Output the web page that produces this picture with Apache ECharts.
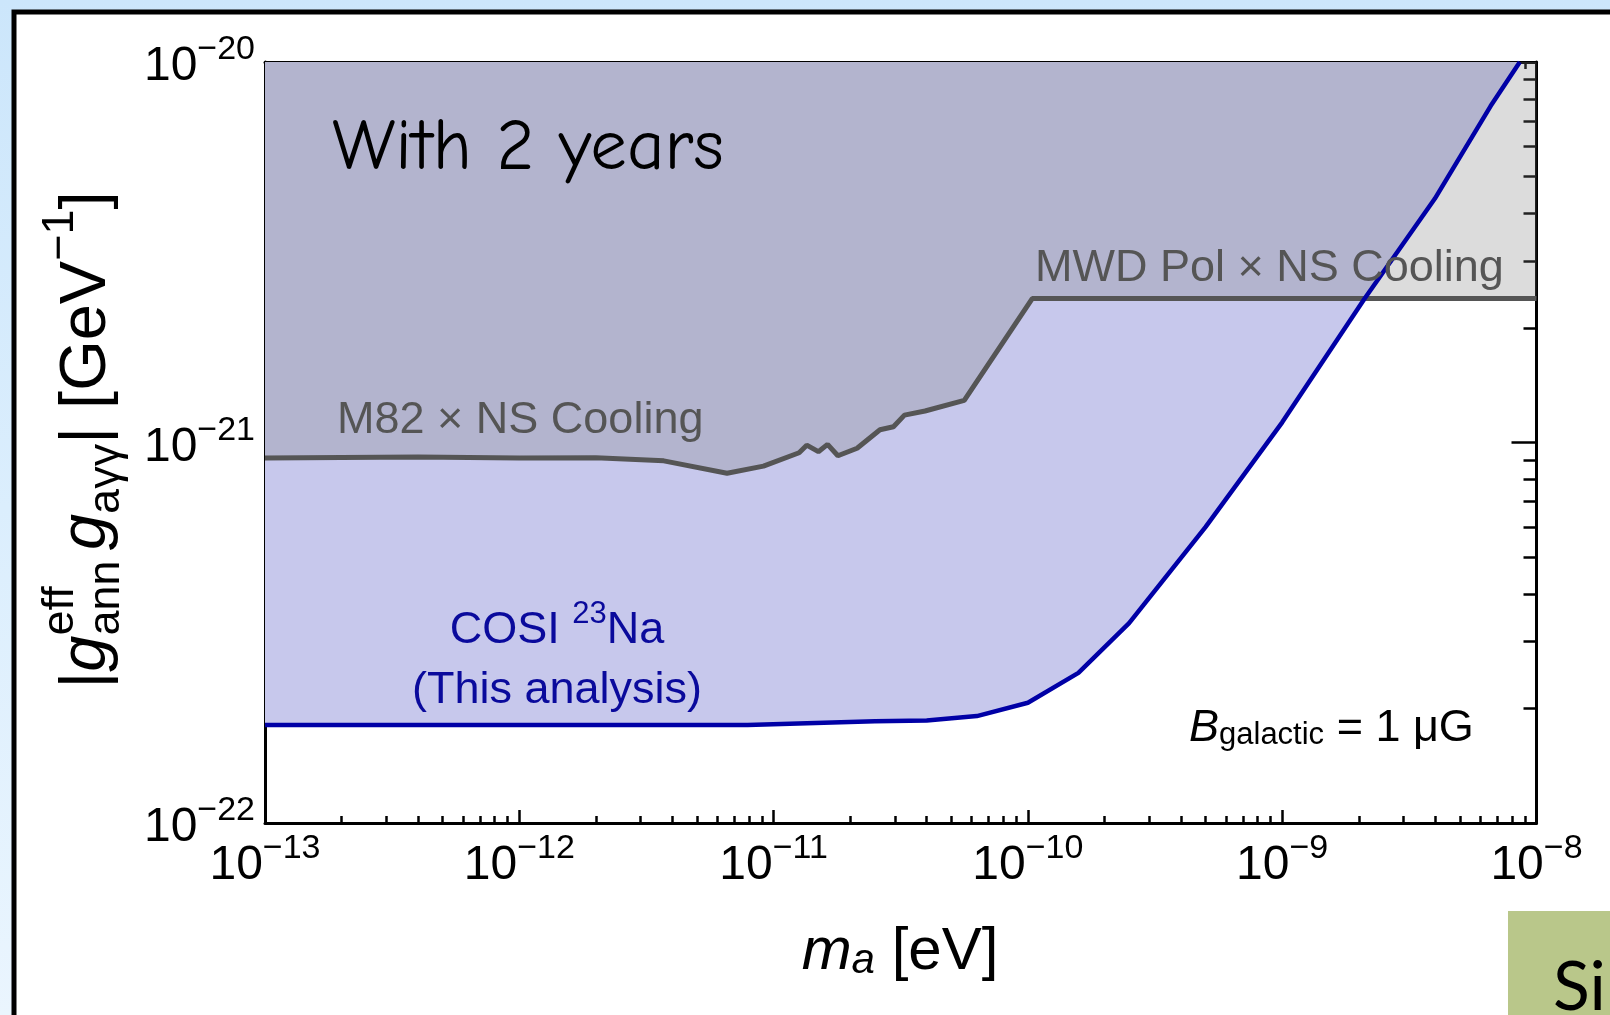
<!DOCTYPE html>
<html><head><meta charset="utf-8">
<script src="https://cdn.jsdelivr.net/npm/echarts@6/dist/echarts.min.js"></script>
<style>
html,body{margin:0;padding:0;width:1610px;height:1015px;overflow:hidden;
background:linear-gradient(180deg,#cce6fb 0%,#dbeefd 50%,#eaf5fe 100%);}
#chart{position:absolute;left:0;top:0;width:1610px;height:1015px;}
</style></head><body><div id="chart"></div>
<script>
// ---------- data (axion mass m_a [eV], coupling |g g| [GeV^-1]) ----------
const massNS = [1e-13, 4.0e-13, 1.0e-12, 2.0e-12, 3.7e-12, 6.56e-12, 9.12e-12, 1.26e-11, 1.35e-11, 1.50e-11, 1.63e-11, 1.79e-11, 2.13e-11, 2.62e-11, 2.96e-11, 3.27e-11, 3.94e-11, 5.62e-11, 1.04e-10, 1e-8];
const couplingNS = [9.10e-22, 9.16e-22, 9.10e-22, 9.12e-22, 8.95e-22, 8.30e-22, 8.67e-22, 9.40e-22, 9.84e-22, 9.46e-22, 9.89e-22, 9.23e-22, 9.66e-22, 1.08e-21, 1.10e-21, 1.18e-21, 1.21e-21, 1.29e-21, 2.39e-21, 2.39e-21];
const massCOSI = [1e-13, 7.9e-12, 2.5e-11, 4.0e-11, 6.3e-11, 1.0e-10, 1.58e-10, 2.5e-10, 5.0e-10, 1.0e-9, 2.11e-9, 3.98e-9, 6.6e-9, 8.6e-9];
const couplingCOSI = [1.81e-22, 1.81e-22, 1.85e-22, 1.86e-22, 1.91e-22, 2.07e-22, 2.48e-22, 3.35e-22, 6.0e-22, 1.13e-21, 2.39e-21, 4.37e-21, 7.66e-21, 1e-20];
const xMajor = [1e-13, 1e-12, 1e-11, 1e-10, 1e-9, 1e-8];
const yMajor = [1e-22, 1e-21, 1e-20];
const xDecades = [-13, -12, -11, -10, -9];
const yDecades = [-22, -21];
const minorSteps = [2, 3, 4, 5, 6, 7, 8, 9];

const xMinor = [], yMinor = [];
xDecades.forEach(d => minorSteps.forEach(k => xMinor.push(k * Math.pow(10, d))));
yDecades.forEach(d => minorSteps.forEach(k => yMinor.push(k * Math.pow(10, d))));
const nsPairs = massNS.map((m, i) => [m, couplingNS[i]]);
const cosiPairs = massCOSI.map((m, i) => [m, couplingCOSI[i]]);

const SANS = '"Liberation Sans", Arial, Helvetica, sans-serif';
const tickRich = {
  b: {fontSize: 48, fontFamily: SANS, color: '#000', lineHeight: 58, verticalAlign: 'bottom'},
  s: {fontSize: 34, fontFamily: SANS, color: '#000', lineHeight: 34, verticalAlign: 'top'}
};
function tickFmt(v) {
  const e = Math.round(Math.log10(v));
  return '{b|10}{s|' + (e < 0 ? '\u2212' : '') + Math.abs(e) + '}';
}
const tickLine = {color: '#000', width: 2.5};

function makeAxis(kind, pos, major, minorVals, isX) {
  const a = {
    type: 'log', logBase: 10, position: pos, gridIndex: 0,
    min: isX ? 1e-13 : 1e-22, max: isX ? 1e-8 : 1e-20,
    splitLine: {show: false}, minorTick: {show: false}, minorSplitLine: {show: false},
    axisPointer: {show: false}
  };
  if (kind === 'major') {
    a.axisLine = {show: true, onZero: false, lineStyle: {color: '#000', width: 3}};
    a.axisTick = {show: true, inside: true, length: isX ? 13 : 25, lineStyle: tickLine, customValues: major};
  } else {
    a.axisLine = {show: false, onZero: false};
    a.axisTick = {show: true, inside: true, length: isX ? 7 : 13, lineStyle: tickLine, customValues: minorVals};
  }
  const showLab = kind === 'major' && (pos === 'bottom' || pos === 'left');
  a.axisLabel = showLab ? {show: true, customValues: major, formatter: tickFmt, rich: tickRich, margin: isX ? 9 : 10} : {show: false};
  return a;
}

// measuring helper for composed y-axis title
const mctx = document.createElement('canvas').getContext('2d');
function tw(text, size, style) {
  mctx.font = (style || 'normal') + ' ' + size + 'px ' + SANS;
  return mctx.measureText(text).width;
}
function buildYTitle() {
  const S = 65, s = 45;
  const parts = [
    {t: '|', size: S}, {t: 'g', size: S, style: 'italic'},
    {stack: [{t: 'eff', size: s, dy: -0.40 * S}, {t: 'ann', size: s, dy: 0.30 * S}]},
    {gap: 0.16 * S},
    {t: 'g', size: S, style: 'italic'}, {t: 'a\u03b3\u03b3', size: s, dy: 0.30 * S},
    {t: '| [GeV', size: S}, {t: '\u22121', size: s, dy: -0.40 * S}, {t: ']', size: S}
  ];
  const children = [];
  let cur = 0;
  const mk = (p, x) => ({type: 'text', x: x, y: p.dy || 0, style: {
    text: p.t, fontSize: p.size, fontFamily: SANS, fontStyle: p.style || 'normal',
    fill: '#000', align: 'left', verticalAlign: 'middle'}});
  parts.forEach(p => {
    if (p.gap) { cur += p.gap; return; }
    if (p.stack) {
      let w = 0;
      p.stack.forEach(q => { children.push(mk(q, cur)); w = Math.max(w, tw(q.t, q.size, q.style)); });
      cur += w; return;
    }
    children.push(mk(p, cur));
    cur += tw(p.t, p.size, p.style);
  });
  return {type: 'group', x: 87, y: 440 + cur / 2, rotation: Math.PI / 2, children: children, z: 100};
}

const chart = echarts.init(document.getElementById('chart'), null, {renderer: 'canvas'});
chart.setOption({
  backgroundColor: 'transparent',
  animation: false,
  grid: {left: 265, right: 73.5, top: 62, bottom: 192, containLabel: false, outerBoundsMode: 'none'},
  xAxis: [
    makeAxis('major', 'bottom', xMajor, xMinor, true),
    makeAxis('minor', 'bottom', xMajor, xMinor, true),
    makeAxis('major', 'top', xMajor, xMinor, true),
    makeAxis('minor', 'top', xMajor, xMinor, true)
  ],
  yAxis: [
    makeAxis('major', 'left', yMajor, yMinor, false),
    makeAxis('minor', 'left', yMajor, yMinor, false),
    makeAxis('major', 'right', yMajor, yMinor, false),
    makeAxis('minor', 'right', yMajor, yMinor, false)
  ],
  series: [
    {name: 'COSI fill', type: 'line', data: cosiPairs, symbol: 'none', silent: true, z: 1,
     lineStyle: {width: 0, opacity: 0}, areaStyle: {origin: 'end', color: '#c7c8ec', opacity: 1}},
    {name: 'NS fill', type: 'line', data: nsPairs, symbol: 'none', silent: true, z: 2,
     lineStyle: {width: 0, opacity: 0}, areaStyle: {origin: 'end', color: 'rgba(124,124,124,0.27)', opacity: 1}},
    {name: 'M82 / MWD Pol x NS Cooling', type: 'line', data: nsPairs, symbol: 'none', z: 3,
     lineStyle: {color: '#555555', width: 5}},
    {name: 'COSI 23Na', type: 'line', data: cosiPairs, symbol: 'none', z: 4,
     lineStyle: {color: '#0000a6', width: 4.5}}
  ],
  graphic: [
    {type: 'rect', z: -10, shape: {x: 14, y: 12, width: 1700, height: 1200},
     style: {fill: '#ffffff', stroke: '#000000', lineWidth: 5}},
    {type: 'rect', z: 50, shape: {x: 1508, y: 911, width: 200, height: 200}, style: {fill: '#b9c78a'}},
    {type: 'text', z: 51, x: 1553, y: 1022, style: {text: 'Si', fontSize: 68, fontFamily: 'Lato, "Open Sans", sans-serif', fill: '#000', align: 'left', verticalAlign: 'bottom'}},
    buildYTitle(),
    {type: 'text', z: 100, x: 900, y: 947, style: {
      text: '{i|m}{sub|a}{n| [eV]}', align: 'center', verticalAlign: 'middle',
      rich: {
        i: {fontSize: 60, fontStyle: 'italic', fontFamily: SANS, lineHeight: 70, verticalAlign: 'bottom', fill: '#000'},
        sub: {fontSize: 42, fontStyle: 'italic', fontFamily: SANS, lineHeight: 28, verticalAlign: 'bottom', fill: '#000'},
        n: {fontSize: 60, fontFamily: SANS, lineHeight: 70, verticalAlign: 'bottom', fill: '#000'}
      }}},
    {type: 'text', z: 100, x: 332, y: 148, style: {text: 'With 2 years', fontSize: 73,
      fontFamily: '"Comic Sans MS", "Comic Neue", Lato, sans-serif', fill: '#000', align: 'left', verticalAlign: 'middle'}},
    {type: 'text', z: 100, x: 1035, y: 269, style: {text: 'MWD Pol \u00d7 NS Cooling', fontSize: 45,
      fontFamily: SANS, fill: '#555555', align: 'left', verticalAlign: 'middle'}},
    {type: 'text', z: 100, x: 337, y: 421, style: {text: 'M82 \u00d7 NS Cooling', fontSize: 45,
      fontFamily: SANS, fill: '#555555', align: 'left', verticalAlign: 'middle'}},
    {type: 'text', z: 100, x: 557, y: 626, style: {
      text: '{n|COSI }{s|23}{n|Na}', align: 'center', verticalAlign: 'middle',
      rich: {
        n: {fontSize: 45, fontFamily: SANS, fill: '#0a0a9c', lineHeight: 54, verticalAlign: 'bottom'},
        s: {fontSize: 31, fontFamily: SANS, fill: '#0a0a9c', lineHeight: 32, verticalAlign: 'top'}
      }}},
    {type: 'text', z: 100, x: 557, y: 691, style: {text: '(This analysis)', fontSize: 45,
      fontFamily: SANS, fill: '#0a0a9c', align: 'center', verticalAlign: 'middle'}},
    {type: 'text', z: 100, x: 1189, y: 724, style: {
      text: '{b|B}{sub|galactic}{n| = 1 \u03bcG}', align: 'left', verticalAlign: 'middle',
      rich: {
        b: {fontSize: 45, fontStyle: 'italic', fontFamily: SANS, fill: '#000', lineHeight: 54, verticalAlign: 'bottom'},
        sub: {fontSize: 31, fontFamily: SANS, fill: '#000', lineHeight: 26, verticalAlign: 'bottom'},
        n: {fontSize: 45, fontFamily: SANS, fill: '#000', lineHeight: 54, verticalAlign: 'bottom'}
      }}}
  ]
});
</script></body></html>
